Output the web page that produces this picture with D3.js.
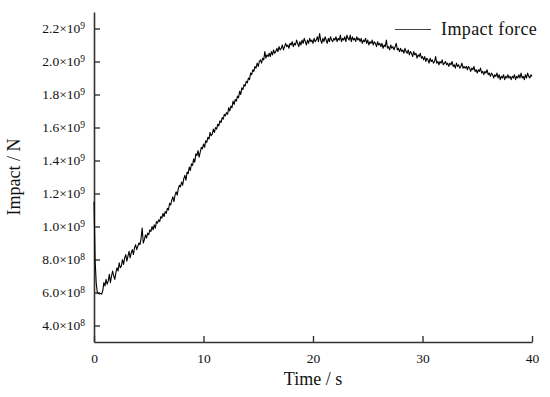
<!DOCTYPE html>
<html>
<head>
<meta charset="utf-8">
<script src="https://cdn.jsdelivr.net/npm/d3@7"></script>
<style>
  body { margin: 0; background: #fff; }
  svg text { font-family: "Liberation Serif", "DejaVu Serif", serif; fill: #111; }
</style>
</head>
<body>
<script>
// impact force, sampled every 0.1 s, in units of 1e8 N
var sampleStep = 0.1;
var unit = 1e8;
var impact = [
  11.5, 8.0, 6.6, 6.0, 5.95, 5.9, 5.95, 5.9, 6.1, 6.6, 6.4, 6.8, 6.5, 6.7, 7.1, 6.6, 7.0, 7.3, 7.0, 6.8,
  7.2, 7.5, 7.3, 7.8, 7.5, 7.6, 8.0, 7.7, 8.1, 8.3, 7.9, 8.2, 8.5, 8.1, 8.4, 8.6, 8.3, 8.7, 8.9, 8.6,
  8.8, 9.0, 8.9, 9.3, 9.9, 9.0, 9.2, 9.5, 9.3, 9.6, 9.5, 9.8, 9.7, 10.0, 9.8, 10.1, 9.9, 10.3, 10.2, 10.4,
  10.3, 10.6, 10.5, 10.8, 10.6, 10.9, 10.8, 11.1, 11.0, 11.4, 11.3, 11.6, 11.8, 11.5, 11.9, 12.1, 11.9, 12.3, 12.5, 12.4,
  12.7, 12.5, 12.9, 13.1, 12.8, 13.3, 13.2, 13.6, 13.4, 13.8, 13.7, 14.1, 13.9, 14.4, 14.3, 14.6, 14.2, 14.5, 14.8, 14.7,
  15.0, 14.8, 15.2, 15.1, 15.4, 15.3, 15.7, 15.5, 15.6, 15.9, 15.7, 16.0, 15.9, 16.2, 16.1, 16.4, 16.3, 16.6, 16.5, 16.8,
  16.7, 16.9, 16.8, 17.2, 17.0, 17.3, 17.2, 17.6, 17.4, 17.7, 17.6, 17.9, 17.8, 18.2, 18.0, 18.4, 18.3, 18.6, 18.5, 18.8,
  18.7, 19.0, 18.9, 19.3, 19.2, 19.5, 19.4, 19.7, 19.6, 19.9, 19.7, 20.0, 20.1, 19.9, 20.2, 20.1, 20.6, 20.2, 20.4, 20.3,
  20.5, 20.3, 20.6, 20.4, 20.7, 20.5, 20.6, 20.8, 20.6, 20.9, 20.7, 20.8, 21.0, 20.7, 20.9, 21.1, 20.9, 21.0, 20.8, 21.1,
  21.0, 21.2, 20.9, 21.1, 21.0, 21.3, 21.1, 20.9, 21.2, 21.0, 21.3, 21.1, 21.4, 21.2, 21.0, 21.3, 21.1, 21.4, 21.2, 21.3,
  21.1, 21.4, 21.2, 21.3, 21.5, 21.2, 21.7, 21.3, 21.1, 21.4, 21.2, 21.5, 21.3, 21.1, 21.4, 21.2, 21.5, 21.3, 21.2, 21.4,
  21.3, 21.5, 21.2, 21.4, 21.3, 21.6, 21.2, 21.4, 21.3, 21.5, 21.2, 21.6, 21.4, 21.3, 21.6, 21.2, 21.5, 21.3, 21.4, 21.2,
  21.5, 21.3, 21.4, 21.2, 21.4, 21.1, 21.3, 21.2, 21.4, 21.1, 21.3, 21.0, 21.2, 21.1, 21.3, 21.0, 21.2, 21.1, 20.9, 21.2,
  21.0, 21.1, 20.9, 21.1, 20.8, 21.0, 20.9, 21.3, 20.8, 20.9, 20.7, 21.0, 20.8, 20.9, 20.7, 20.9, 21.1, 20.7, 20.8, 20.6,
  20.8, 20.6, 20.7, 20.5, 20.8, 20.6, 20.5, 20.7, 20.4, 20.6, 20.5, 20.3, 20.6, 20.4, 20.5, 20.2, 20.4, 20.3, 20.5, 20.2,
  20.3, 20.1, 20.3, 20.0, 20.2, 20.1, 19.9, 20.2, 20.0, 20.1, 19.9, 20.0, 20.3, 19.9, 20.0, 19.8, 20.0, 19.9, 20.1, 19.8,
  19.9, 20.0, 19.8, 19.9, 19.7, 19.9, 19.8, 20.0, 19.7, 19.8, 19.6, 19.9, 19.7, 19.8, 19.6, 19.7, 19.9, 19.6, 19.7, 19.6,
  19.7, 19.5, 19.7, 19.6, 19.4, 19.6, 19.5, 19.7, 19.4, 19.5, 19.3, 19.5, 19.4, 19.6, 19.3, 19.4, 19.2, 19.4, 19.3, 19.5,
  19.2, 19.3, 19.1, 19.3, 19.2, 19.0, 19.2, 19.1, 19.3, 19.0, 19.2, 18.9, 19.1, 19.0, 19.2, 18.9, 19.1, 19.0, 19.2, 19.0,
  19.1, 18.9, 19.1, 19.0, 19.2, 18.9, 19.1, 19.0, 19.2, 19.0, 19.3, 19.0, 19.1, 18.9, 19.2, 19.0, 19.3, 19.1, 19.0, 19.2,
  19.1
];
var xTicks = [0, 10, 20, 30, 40];
var yTicks = [4e8, 6e8, 8e8, 1.0e9, 1.2e9, 1.4e9, 1.6e9, 1.8e9, 2.0e9, 2.2e9];
var yTickLabels = ['4.0', '6.0', '8.0', '1.0', '1.2', '1.4', '1.6', '1.8', '2.0', '2.2'];
var yTickExp = ['8', '8', '8', '9', '9', '9', '9', '9', '9', '9'];

var width = 550, height = 397;
var margin = {top: 12, right: 18, bottom: 55, left: 94};

var svg = d3.select('body').append('svg')
  .attr('width', width)
  .attr('height', height);

var x = d3.scaleLinear().domain([0, 40]).range([margin.left, width - margin.right]);
var y = d3.scaleLinear().domain([3e8, 2.3e9]).range([height - margin.bottom, margin.top]);

var points = impact.map(function(v, i) { return [i * sampleStep, v * unit]; });

// axes
var xAxis = svg.append('g')
  .attr('transform', 'translate(0,' + y(3e8) + ')')
  .call(d3.axisBottom(x).tickValues(xTicks).tickSizeInner(-6).tickSizeOuter(0).tickPadding(11).tickFormat(d3.format('d')));

var yAxis = svg.append('g')
  .attr('transform', 'translate(' + x(0) + ',0)')
  .call(d3.axisLeft(y).tickValues(yTicks).tickSizeInner(-6).tickSizeOuter(0).tickPadding(9).tickFormat(''));

[xAxis, yAxis].forEach(function(g) {
  g.select('.domain').attr('stroke', '#333').attr('stroke-width', 1.6);
  g.selectAll('.tick line').attr('stroke', '#333').attr('stroke-width', 1.4);
  g.selectAll('.tick text').attr('font-size', 13.5).attr('fill', '#111')
    .style('font-family', '"Liberation Serif", serif');
});

// y tick labels with exponents
yAxis.selectAll('.tick').each(function(d, i) {
  var t = d3.select(this).select('text');
  t.text(null);
  t.append('tspan').text(yTickLabels[i] + '\u00d710');
  t.append('tspan').attr('dy', '-0.45em').attr('font-size', 9.5).text(yTickExp[i]);
});

// line
svg.append('path')
  .datum(points)
  .attr('fill', 'none')
  .attr('stroke', '#000')
  .attr('stroke-width', 1.1)
  .attr('stroke-linejoin', 'round')
  .attr('d', d3.line().x(function(d) { return x(d[0]); }).y(function(d) { return y(d[1]); }));

// axis titles
svg.append('text')
  .attr('x', x(20))
  .attr('y', 385)
  .attr('text-anchor', 'middle')
  .attr('font-size', 18)
  .text('Time / s');

svg.append('text')
  .attr('transform', 'translate(20,' + y(1.3e9) + ') rotate(-90)')
  .attr('text-anchor', 'middle')
  .attr('font-size', 18)
  .text('Impact / N');

// legend
svg.append('line')
  .attr('x1', 395).attr('x2', 431)
  .attr('y1', 29.5).attr('y2', 29.5)
  .attr('stroke', '#444').attr('stroke-width', 1);
svg.append('text')
  .attr('x', 441)
  .attr('y', 34.5)
  .attr('font-size', 18)
  .attr('letter-spacing', 0.4)
  .text('Impact force');
</script>
</body>
</html>
